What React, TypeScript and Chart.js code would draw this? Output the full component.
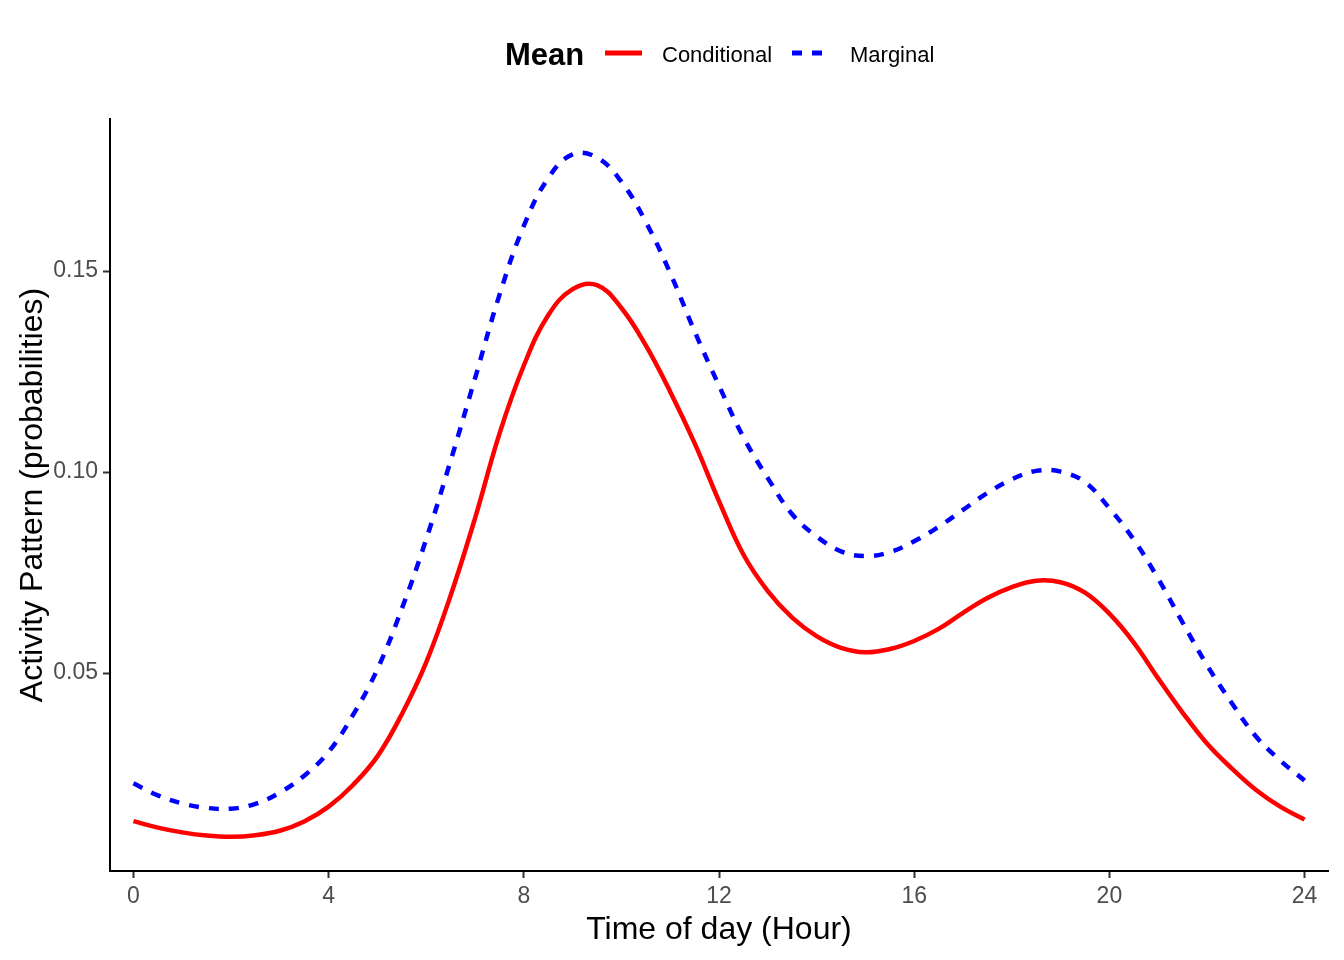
import React, { useEffect, useRef } from "react";
import { Chart, registerables } from "chart.js";

Chart.register(...registerables);

const HOURS = [
  0, 0.5, 1, 1.5, 2, 2.5, 3, 3.5, 4, 4.5, 5, 5.5, 6, 6.5, 7, 7.5, 8, 8.5, 9, 9.5,
  10, 10.5, 11, 11.5, 12, 12.5, 13, 13.5, 14, 14.5, 15, 15.5, 16, 16.5, 17, 17.5,
  18, 18.5, 19, 19.5, 20, 20.5, 21, 21.5, 22, 22.5, 23, 23.5, 24,
];

const CONDITIONAL = [
  0.0132, 0.0116, 0.0104, 0.0096, 0.0093, 0.0097, 0.0108, 0.0131, 0.0168, 0.0222,
  0.0293, 0.0398, 0.0527, 0.0693, 0.0885, 0.1095, 0.1265, 0.1390, 0.1455, 0.1465,
  0.1408, 0.1315, 0.1200, 0.1072, 0.0928, 0.0795, 0.0704, 0.0638, 0.0592, 0.0563,
  0.0552, 0.0560, 0.0580, 0.0610, 0.0650, 0.0687, 0.0714, 0.0730, 0.0726, 0.0700,
  0.0648, 0.0576, 0.0487, 0.0402, 0.0325, 0.0264, 0.0210, 0.0168, 0.0136,
];

const MARGINAL = [
  0.0226, 0.0196, 0.0176, 0.0165, 0.0163, 0.0175, 0.0203, 0.0245, 0.0304, 0.0396,
  0.0510, 0.0660, 0.0833, 0.1028, 0.1233, 0.1440, 0.1612, 0.1731, 0.1790, 0.1782,
  0.1722, 0.1622, 0.1495, 0.1350, 0.1215, 0.1087, 0.0985, 0.0895, 0.0840, 0.0803,
  0.0791, 0.0801, 0.0828, 0.0864, 0.0906, 0.0948, 0.0982, 0.1003, 0.1001, 0.0975,
  0.0910, 0.0832, 0.0735, 0.0626, 0.0520, 0.0427, 0.0343, 0.0283, 0.0233,
];

const X_TICKS = [0, 4, 8, 12, 16, 20, 24];
const Y_TICKS = [0.05, 0.1, 0.15];

const SERIES_NAMES = ["Conditional", "Marginal"];
const LEGEND_TITLE = "Mean";
const X_TITLE = "Time of day (Hour)";
const Y_TITLE = "Activity Pattern (probabilities)";

const FONT = '"Liberation Sans", Arial, sans-serif';
const RED = "#FF0000";
const BLUE = "#0000FF";

const W = 1344;
const H = 960;

const textPlugin = {
  id: "customText",
  afterDraw(chart: any) {
    const ctx = chart.ctx as CanvasRenderingContext2D;
    const area = chart.chartArea;
    ctx.save();
    ctx.fillStyle = "#000000";
    ctx.textBaseline = "alphabetic";

    // Legend
    ctx.textAlign = "left";
    ctx.font = `bold 31px ${FONT}`;
    ctx.fillText(LEGEND_TITLE, 505, 65);

    ctx.lineWidth = 5;
    ctx.lineCap = "butt";
    ctx.strokeStyle = RED;
    ctx.setLineDash([]);
    ctx.beginPath();
    ctx.moveTo(605, 53);
    ctx.lineTo(642, 53);
    ctx.stroke();

    ctx.font = `22px ${FONT}`;
    ctx.fillText(SERIES_NAMES[0], 662, 62);

    ctx.strokeStyle = BLUE;
    ctx.setLineDash([10, 10]);
    ctx.beginPath();
    ctx.moveTo(792, 53);
    ctx.lineTo(829, 53);
    ctx.stroke();
    ctx.setLineDash([]);

    ctx.fillText(SERIES_NAMES[1], 850, 62);

    // X title
    ctx.font = `32px ${FONT}`;
    ctx.textAlign = "center";
    ctx.fillText(X_TITLE, (area.left + area.right) / 2, 939);

    // Y title
    ctx.translate(42, (area.top + area.bottom) / 2);
    ctx.rotate(-Math.PI / 2);
    ctx.fillText(Y_TITLE, 0, 0);
    ctx.restore();
  },
};

export default function App() {
  const canvasRef = useRef<HTMLCanvasElement | null>(null);

  useEffect(() => {
    const canvas = canvasRef.current;
    if (!canvas) return;
    const chart = new Chart(canvas, {
      type: "line",
      data: {
        datasets: [
          {
            label: SERIES_NAMES[0],
            data: HOURS.map((h, i) => ({ x: h, y: CONDITIONAL[i] })),
            borderColor: RED,
            backgroundColor: RED,
            borderWidth: 4.5,
            pointRadius: 0,
            tension: 0.4,
            fill: false,
          },
          {
            label: SERIES_NAMES[1],
            data: HOURS.map((h, i) => ({ x: h, y: MARGINAL[i] })),
            borderColor: BLUE,
            backgroundColor: BLUE,
            borderWidth: 4.5,
            borderDash: [10, 10],
            borderCapStyle: "butt",
            pointRadius: 0,
            tension: 0.4,
            fill: false,
          },
        ],
      },
      options: {
        responsive: false,
        animation: false,
        devicePixelRatio: 1,
        layout: { padding: { top: 119, right: 16, bottom: 0, left: 0 } },
        plugins: {
          legend: { display: false },
          tooltip: { enabled: false },
          title: { display: false },
        },
        scales: {
          x: {
            type: "linear",
            min: -0.48,
            max: 24.48,
            afterFit: (scale: any) => {
              scale.height = 89;
            },
            afterBuildTicks: (scale: any) => {
              scale.ticks = X_TICKS.map((v) => ({ value: v }));
            },
            ticks: {
              color: "#4D4D4D",
              font: { family: FONT, size: 23 },
              padding: 5,
              maxRotation: 0,
              autoSkip: false,
              callback: (v: any) => String(v),
            },
            grid: {
              display: true,
              drawOnChartArea: false,
              drawTicks: true,
              tickLength: 7,
              tickColor: "#333333",
              tickWidth: 2,
            },
            border: { display: true, color: "#000000", width: 2 },
          },
          y: {
            type: "linear",
            min: 0.0008,
            max: 0.1878,
            afterFit: (scale: any) => {
              scale.width = 110;
            },
            afterBuildTicks: (scale: any) => {
              scale.ticks = Y_TICKS.map((v) => ({ value: v }));
            },
            ticks: {
              color: "#4D4D4D",
              font: { family: FONT, size: 23 },
              padding: 5,
              autoSkip: false,
              callback: (v: any) => Number(v).toFixed(2),
            },
            grid: {
              display: true,
              drawOnChartArea: false,
              drawTicks: true,
              tickLength: 7,
              tickColor: "#333333",
              tickWidth: 2,
            },
            border: { display: true, color: "#000000", width: 2 },
          },
        },
      },
      plugins: [textPlugin],
    } as any);
    return () => chart.destroy();
  }, []);

  return (
    <div
      style={{
        position: "fixed",
        left: 0,
        top: 0,
        width: W,
        height: H,
        background: "#FFFFFF",
      }}
    >
      <canvas ref={canvasRef} width={W} height={H} style={{ width: W, height: H }} />
    </div>
  );
}
